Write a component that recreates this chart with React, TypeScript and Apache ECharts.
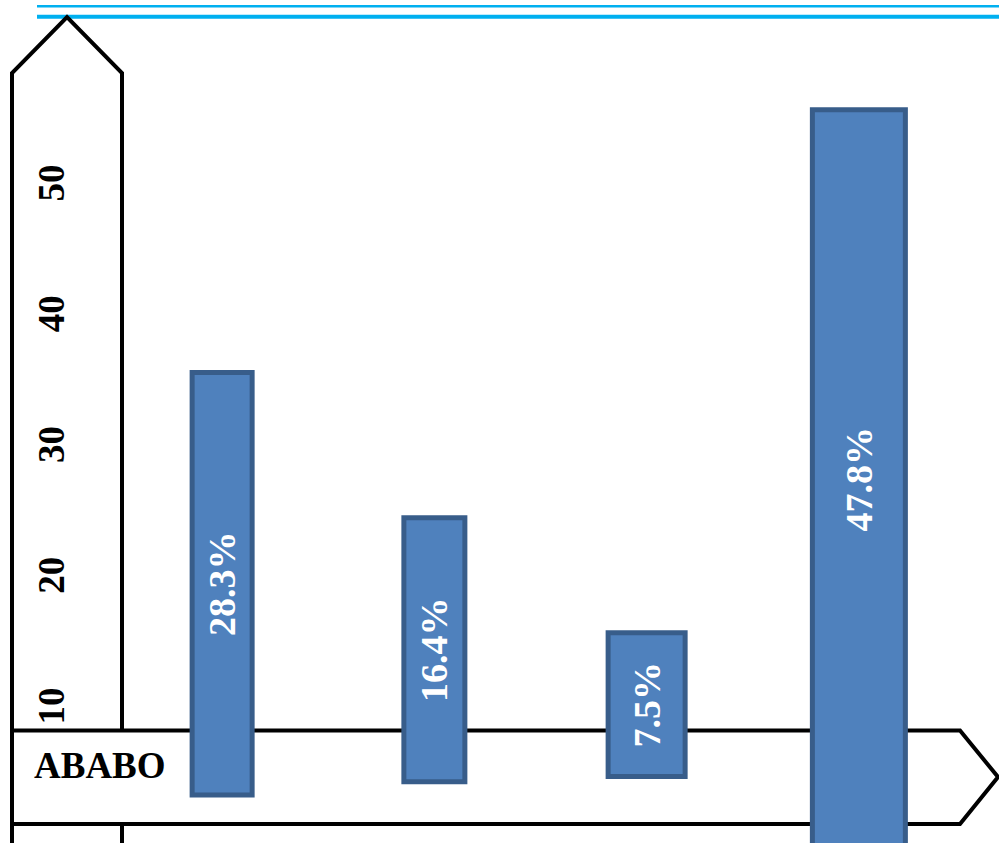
import React, { useEffect, useRef } from 'react';
import * as echarts from 'echarts';

// Four floating bars, each spanning [low, high] on the value axis,
// labelled with its share of the total.
const groups = ['1', '2', '3', '4'];
const rangeLow = [3.2, 4.2, 4.6, -0.9];
const rangeHigh = [35.5, 24.4, 15.6, 55.6];
const shares = [28.3, 16.4, 7.5, 47.8];
const yTicks = [10, 20, 30, 40, 50];
const bandLabel = 'ABABO';

// Drawing styles
const barWidths = [60, 61, 77, 93];
const SERIF = '"Liberation Serif", "Times New Roman", serif';
const BAR_FILL = '#4F81BD';
const BAR_STROKE = '#385D8A';
const CYAN = '#00B0F0';

export default function App() {
  const ref = useRef<HTMLDivElement>(null);

  useEffect(() => {
    document.body.style.margin = '0';
    if (!ref.current) return;
    const chart = echarts.init(ref.current, undefined, { renderer: 'svg' });

    const option: any = {
      animation: false,
      backgroundColor: '#fff',
      grid: { left: 116, right: 34, top: 52.25, bottom: 6.25, containLabel: false },
      xAxis: { type: 'category', data: groups, show: false },
      yAxis: {
        type: 'value',
        min: 0,
        max: 60,
        interval: 10,
        axisLine: { show: false },
        axisTick: { show: false },
        splitLine: { show: false },
        axisLabel: {
          rotate: 90,
          margin: 46,
          color: '#000',
          fontFamily: SERIF,
          fontWeight: 'bold',
          fontSize: 37,
          formatter: (v: number) => (yTicks.includes(v) ? String(v) : ''),
        },
      },
      graphic: [
        {
          type: 'line',
          z: 1,
          shape: { x1: 37, y1: 6.3, x2: 999, y2: 6.3 },
          style: { stroke: CYAN, lineWidth: 2.5 },
        },
        {
          type: 'line',
          z: 1,
          shape: { x1: 37, y1: 16.8, x2: 999, y2: 16.8 },
          style: { stroke: CYAN, lineWidth: 4 },
        },
        {
          // vertical arrow forming the value axis
          type: 'polyline',
          z: 2,
          shape: { points: [[12, 900], [12, 73], [67, 17], [122, 73], [122, 900]] },
          style: { stroke: '#000', lineWidth: 4, fill: null, lineJoin: 'miter' },
        },
        {
          // horizontal arrow band
          type: 'polygon',
          z: 3,
          shape: { points: [[12, 730.5], [960, 730.5], [998, 777], [960, 824], [12, 824]] },
          style: { stroke: '#000', lineWidth: 4, fill: '#fff', lineJoin: 'miter' },
        },
        {
          type: 'text',
          z: 4,
          x: 34,
          y: 765,
          style: {
            text: bandLabel,
            fill: '#000',
            font: `bold 37px ${SERIF}`,
            textAlign: 'left',
            textVerticalAlign: 'middle',
            align: 'left',
            verticalAlign: 'middle',
          },
        },
      ],
      series: [
        {
          type: 'custom',
          z: 10,
          clip: false,
          data: groups.map((g, i) => [i, rangeLow[i], rangeHigh[i], shares[i]]),
          renderItem: (params: any, api: any) => {
            const idx = api.value(0);
            const lo = api.coord([idx, api.value(1)]);
            const hi = api.coord([idx, api.value(2)]);
            const w = barWidths[params.dataIndex];
            const cx = lo[0];
            return {
              type: 'group',
              children: [
                {
                  type: 'rect',
                  shape: { x: cx - w / 2, y: hi[1], width: w, height: lo[1] - hi[1] },
                  style: { fill: BAR_FILL, stroke: BAR_STROKE, lineWidth: 5 },
                },
                {
                  type: 'text',
                  x: cx,
                  y: (lo[1] + hi[1]) / 2,
                  rotation: Math.PI / 2,
                  style: {
                    text: api.value(3).toFixed(1) + '%',
                    fill: '#fff',
                    font: `bold 38px ${SERIF}`,
                    textAlign: 'center',
                    textVerticalAlign: 'middle',
                    align: 'center',
                    verticalAlign: 'middle',
                  },
                },
              ],
            };
          },
        },
      ],
    };

    chart.setOption(option);
    return () => chart.dispose();
  }, []);

  return <div ref={ref} style={{ width: 999, height: 843 }} />;
}
